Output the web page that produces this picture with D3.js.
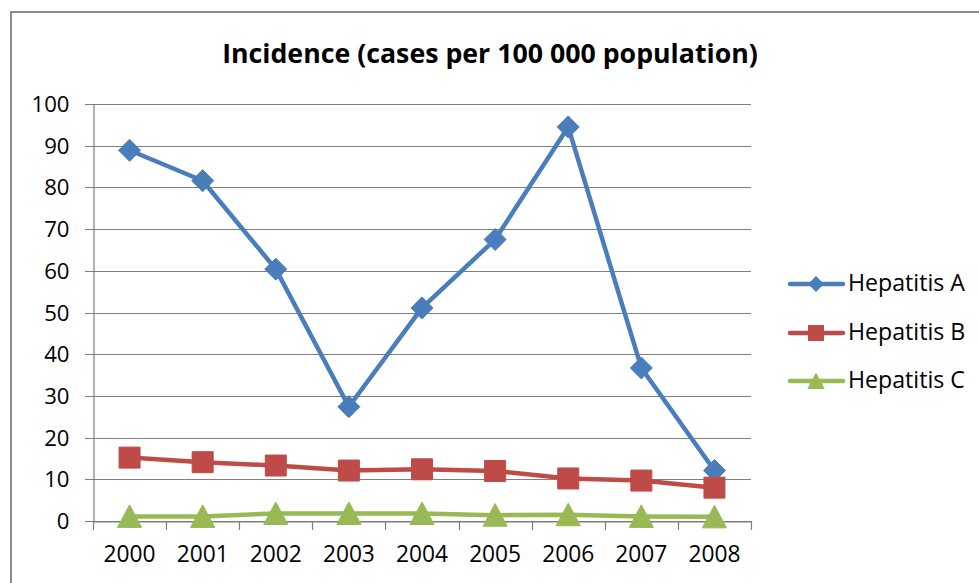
<!DOCTYPE html>
<html><head><meta charset="utf-8">
<script src="https://cdn.jsdelivr.net/npm/d3@7"></script>
<style>body{margin:0;background:#fff}svg{display:block}text{font-family:"Open Sans",sans-serif;fill:#000}</style>
</head><body><svg id="c" width="979" height="583"></svg>
<script>
const years = ["2000","2001","2002","2003","2004","2005","2006","2007","2008"];
const hepA = [88.9, 81.6, 60.4, 27.4, 51.1, 67.5, 94.5, 36.7, 12.1];
const hepB = [15.2, 14.1, 13.3, 12.1, 12.4, 12.0, 10.2, 9.7, 8.0];
const hepC = [1.1, 1.1, 1.8, 1.8, 1.8, 1.4, 1.5, 1.1, 1.0];
const yTicks = [0,10,20,30,40,50,60,70,80,90,100];
const seriesNames = ["Hepatitis A","Hepatitis B","Hepatitis C"];
const seriesColors = ["#4a7ebb","#be4b48","#98b954"];
const titleText = "Incidence (cases per 100 000 population)";

const svg = d3.select("#c");
function fit(sel, w){ const n=sel.node(); let fs=parseFloat(sel.attr("font-size")); const cur=n.getComputedTextLength(); const nf=fs*w/cur; sel.attr("font-size", nf); return nf; }

svg.append("path").attr("d","M11,583V12H979").attr("fill","none").attr("stroke","#8c8c8c").attr("stroke-width",2);

const x = d3.scaleBand().domain(years).range([93,751]);
const y = d3.scaleLinear().domain([0,100]).range([521,104]);

svg.append("g").selectAll("line").data(yTicks).join("line")
 .attr("x1",85).attr("x2",751).attr("y1",d=>Math.round(y(d))+0.5).attr("y2",d=>Math.round(y(d))+0.5)
 .attr("stroke","#7f7f7f").attr("stroke-width",1.2);
const ya = svg.append("g").attr("transform","translate(93.5,0)").call(d3.axisLeft(y).tickValues(yTicks).tickSize(0).tickPadding(24));
ya.select(".domain").attr("stroke","#7f7f7f").attr("stroke-width",1.2);
ya.selectAll("text").attr("font-size",19).attr("fill","#000").style("font-family",'"Open Sans",sans-serif');
const yfs = fit(ya.selectAll("text").filter(d=>d===100), 38);
ya.selectAll("text").attr("font-size",yfs).attr("dy","0.34em");
const xa = svg.append("g").attr("transform","translate(0,521.5)").call(d3.axisBottom(x).tickSize(0).tickPadding(24));
xa.select(".domain").attr("stroke","#7f7f7f").attr("stroke-width",1.2);
xa.selectAll("text").attr("font-size",19).attr("fill","#000").style("font-family",'"Open Sans",sans-serif');
const xfs = fit(xa.selectAll("text").filter(d=>d==="2000"), 52);
xa.selectAll("text").attr("font-size",xfs);
svg.append("g").selectAll("line").data(d3.range(years.length+1)).join("line")
 .attr("x1",i=>Math.round(93+i*x.step())+0.5).attr("x2",i=>Math.round(93+i*x.step())+0.5)
 .attr("y1",521).attr("y2",530).attr("stroke","#7f7f7f").attr("stroke-width",1.2);

const cx = d=>x(d)+x.bandwidth()/2;
const data=[hepA,hepB,hepC];
function shape(k,s){
  if(k===0) return `M0,${-s}L${s},0L0,${s}L${-s},0Z`;
  if(k===1) return `M${-s},${-s}H${s}V${s}H${-s}Z`;
  return `M0,${-s*1.05}L${s*1.1},${s}H${-s*1.1}Z`;
}
const msz=[11,10.5,11];
const line=d3.line().x((d,i)=>cx(years[i])).y(d=>y(d));
data.forEach((vals,k)=>{
  svg.append("path").datum(vals).attr("d",line).attr("fill","none").attr("stroke",seriesColors[k]).attr("stroke-width",4.5).attr("stroke-linejoin","round");
  svg.append("g").selectAll("path").data(vals).join("path")
   .attr("transform",(d,i)=>`translate(${cx(years[i])},${y(d)+(k===2?0:0)})`)
   .attr("d",shape(k,msz[k])).attr("fill",seriesColors[k]).attr("stroke",seriesColors[k]).attr("stroke-width",1).attr("stroke-linejoin","round");
});

const ly=[284,333,381];
let lfs=19;
seriesNames.forEach((n,k)=>{
  const g=svg.append("g");
  g.append("line").attr("x1",790).attr("x2",843).attr("y1",ly[k]).attr("y2",ly[k]).attr("stroke",seriesColors[k]).attr("stroke-width",4.5).attr("stroke-linecap","round");
  g.append("path").attr("transform",`translate(816,${ly[k]})`).attr("d",shape(k,8)).attr("fill",seriesColors[k]);
  const t=g.append("text").attr("x",848).attr("y",ly[k]+7).attr("font-size",lfs).text(n);
  if(k===0) lfs=fit(t,117);
});

const title=svg.append("text").attr("x",490).attr("y",63).attr("text-anchor","middle").attr("font-weight","bold").attr("font-size",22).text(titleText);
fit(title,536);
</script></body></html>
